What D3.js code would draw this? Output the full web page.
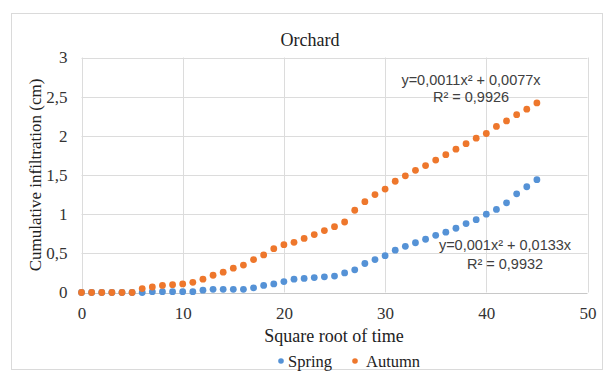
<!DOCTYPE html>
<html>
<head>
<meta charset="utf-8">
<script src="https://cdn.jsdelivr.net/npm/d3@7/dist/d3.min.js"></script>
<style>
  html, body { margin: 0; padding: 0; background: #ffffff; }
  svg { display: block; }
</style>
</head>
<body>
<svg id="chart" width="608" height="372"></svg>
<script>
// Square root of time (x) for both series
const sqrtTime = [0,1,2,3,4,5,6,7,8,9,10,11,12,13,14,15,16,17,18,19,20,21,22,23,24,25,26,27,28,29,30,31,32,33,34,35,36,37,38,39,40,41,42,43,44,45];

// Cumulative infiltration (cm)
const spring = [0,0,0,0,0,0,0,0.01,0.01,0.01,0.01,0.01,0.03,0.04,0.04,0.04,0.04,0.06,0.09,0.11,0.14,0.17,0.18,0.19,0.20,0.21,0.25,0.29,0.37,0.42,0.47,0.54,0.59,0.635,0.68,0.73,0.77,0.82,0.88,0.93,1.00,1.06,1.145,1.26,1.35,1.44];
const autumn = [0,0,0,0,0,0,0.05,0.07,0.09,0.10,0.11,0.13,0.17,0.22,0.26,0.31,0.35,0.42,0.48,0.56,0.61,0.64,0.69,0.74,0.79,0.84,0.90,1.05,1.16,1.25,1.32,1.42,1.49,1.56,1.62,1.69,1.76,1.83,1.90,1.97,2.03,2.12,2.19,2.27,2.34,2.42];

const xTicks = [0,10,20,30,40,50];
const yTicks = [0,0.5,1,1.5,2,2.5,3];

const seriesNames = ["Spring","Autumn"];
const seriesColors = ["#5592d6","#ee772c"];
const trendLabels = [
  ["y=0,001x\u00B2 + 0,0133x", "R\u00B2 = 0,9932"],
  ["y=0,0011x\u00B2 + 0,0077x", "R\u00B2 = 0,9926"]
];

const svg = d3.select("#chart");
const serif = "'Liberation Serif', 'Times New Roman', serif";
const sans = "'Liberation Sans', Arial, sans-serif";

// chart frame
svg.append("rect")
  .attr("x", 11.5).attr("y", 13.5)
  .attr("width", 591).attr("height", 356)
  .attr("fill", "#ffffff")
  .attr("stroke", "#dadada").attr("stroke-width", 1);

const x = d3.scaleLinear().domain([0, 50]).range([81.5, 587.5]);
const y = d3.scaleLinear().domain([0, 3]).range([292.5, 57.5]);
const fmt = v => String(v).replace(".", ",");

// gridlines
const grid = svg.append("g");
grid.selectAll("line.h").data(yTicks).join("line")
  .attr("x1", x(0)).attr("x2", x(50))
  .attr("y1", d => Math.round(y(d)) + 0.5).attr("y2", d => Math.round(y(d)) + 0.5)
  .attr("stroke", d => d === 0 ? "#c8c8c8" : "#dcdcdc").attr("stroke-width", 1);
grid.selectAll("line.v").data(xTicks).join("line")
  .attr("y1", y(0)).attr("y2", y(3))
  .attr("x1", d => Math.round(x(d)) + 0.5).attr("x2", d => Math.round(x(d)) + 0.5)
  .attr("stroke", "#dcdcdc").attr("stroke-width", 1);

// axes (labels only)
const xAxis = svg.append("g")
  .attr("transform", `translate(0,${y(0)})`)
  .call(d3.axisBottom(x).tickValues(xTicks).tickSize(0).tickPadding(14).tickFormat(fmt));
const yAxis = svg.append("g")
  .attr("transform", `translate(${x(0)},0)`)
  .call(d3.axisLeft(y).tickValues(yTicks).tickSize(0).tickPadding(14).tickFormat(fmt));
[xAxis, yAxis].forEach(g => {
  g.select(".domain").remove();
  g.selectAll("text")
    .attr("font-family", serif).attr("font-size", 17).attr("fill", "#333333");
});

// points
const series = [spring, autumn];
series.forEach((vals, si) => {
  svg.append("g").selectAll("circle")
    .data(vals.map((v, i) => [sqrtTime[i], v]))
    .join("circle")
    .attr("cx", d => x(d[0]))
    .attr("cy", d => y(d[1]))
    .attr("r", 3.4)
    .attr("fill", seriesColors[si]);
});

// trendline equations
const eqPos = [
  { cx: 505, y1: 250, y2: 268.5 },
  { cx: 471, y1: 84.5, y2: 102 }
];
trendLabels.forEach((lines, i) => {
  const g = svg.append("g")
    .attr("font-family", sans).attr("font-size", 14.5).attr("fill", "#404040")
    .attr("text-anchor", "middle");
  g.append("text").attr("x", eqPos[i].cx).attr("y", eqPos[i].y1).text(lines[0]);
  g.append("text").attr("x", eqPos[i].cx).attr("y", eqPos[i].y2).text(lines[1]);
});

// title
svg.append("text")
  .attr("x", 310).attr("y", 45.5)
  .attr("text-anchor", "middle")
  .attr("font-family", serif).attr("font-size", 18).attr("fill", "#222222")
  .text("Orchard");

// axis titles
svg.append("text")
  .attr("x", 334).attr("y", 342)
  .attr("text-anchor", "middle")
  .attr("font-family", serif).attr("font-size", 18).attr("fill", "#222222")
  .text("Square root of time");
svg.append("text")
  .attr("transform", "translate(41,175) rotate(-90)")
  .attr("text-anchor", "middle")
  .attr("font-family", serif).attr("font-size", 17).attr("fill", "#222222")
  .text("Cumulative infiltration (cm)");

// legend
const legendItems = [
  { name: seriesNames[0], color: seriesColors[0], mx: 281, tx: 288 },
  { name: seriesNames[1], color: seriesColors[1], mx: 355, tx: 366 }
];
const legend = svg.append("g");
legendItems.forEach(it => {
  legend.append("circle").attr("cx", it.mx).attr("cy", 361).attr("r", 2.8).attr("fill", it.color);
  legend.append("text").attr("x", it.tx).attr("y", 366.5)
    .attr("font-family", serif).attr("font-size", 16.5).attr("fill", "#222222")
    .text(it.name);
});
</script>
</body>
</html>
